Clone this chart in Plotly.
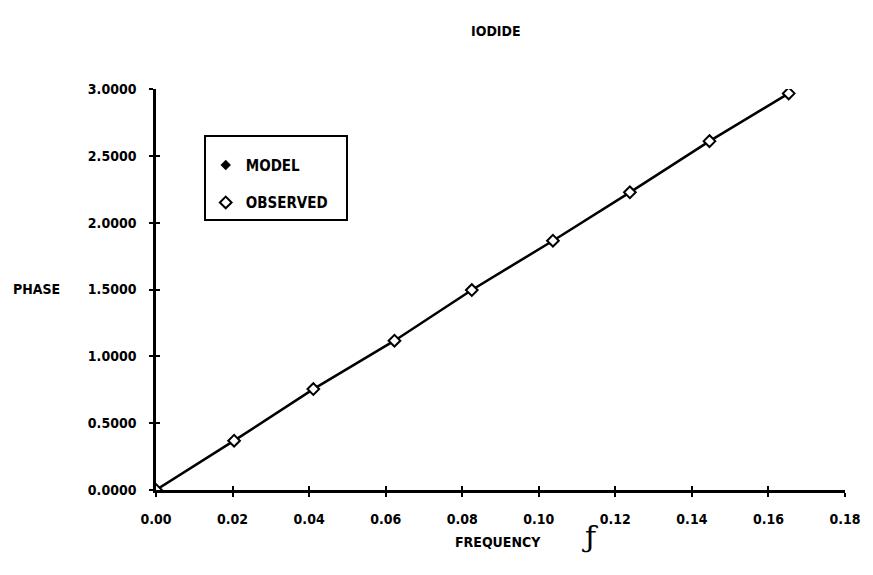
import plotly.graph_objects as go

# Iodide phase vs. frequency
frequency = [0.0, 0.0204, 0.0411, 0.0623, 0.0825, 0.1037, 0.1238, 0.1446, 0.1653]
phase_model = [0.0, 0.369, 0.755, 1.117, 1.496, 1.865, 2.227, 2.610, 2.967]
phase_observed = [0.0, 0.369, 0.755, 1.117, 1.496, 1.865, 2.227, 2.610, 2.967]

x_ticks = [0.00, 0.02, 0.04, 0.06, 0.08, 0.10, 0.12, 0.14, 0.16, 0.18]
y_ticks = [0.0, 0.5, 1.0, 1.5, 2.0, 2.5, 3.0]

FONT = "DejaVu Sans Condensed, DejaVu Sans"
W, H = 873, 575
L, R, T, B = 156, 24, 89, 85
PW, PH = W - L - R, H - T - B


def px_x(p):
    return (p - L) / PW


def px_y(p):
    return (H - B - p) / PH


fig = go.Figure()

# model curve
fig.add_trace(go.Scatter(
    x=frequency, y=phase_model, mode="lines",
    line=dict(color="black", width=2.5), showlegend=False, hoverinfo="skip",
))
# model points (filled diamonds)
fig.add_trace(go.Scatter(
    x=frequency, y=phase_model, mode="markers", name="<b>MODEL</b>",
    marker=dict(symbol="diamond", size=8, color="black"),
    legendgroup="a",
))
# observed points (open diamonds)
fig.add_trace(go.Scatter(
    x=frequency, y=phase_observed, mode="markers",
    name="<b>OBSERVED</b>&nbsp;&nbsp;&nbsp;",
    marker=dict(symbol="diamond", size=9, color="white",
                line=dict(color="black", width=2)),
    legendgroup="b",
))

axis_font = dict(family=FONT, size=14, color="black", weight="bold")

common = dict(showgrid=False, zeroline=False, showline=True, linecolor="black",
              linewidth=2.5, ticks="outside", ticklen=4, tickwidth=2,
              tickcolor="black", tickfont=axis_font)

fig.update_layout(
    width=W, height=H,
    margin=dict(l=L, r=R, t=T, b=B, pad=0),
    paper_bgcolor="white", plot_bgcolor="white",
    font=dict(family=FONT, color="black"),
    xaxis=dict(range=[0, 0.18], tickvals=x_ticks, tickformat=".2f",
               ticklabelstandoff=10, **common),
    yaxis=dict(range=[0, 3.0], tickvals=y_ticks, tickformat=".4f",
               ticklabelstandoff=10, **common),
    # inner halves of the cross-shaped tick marks
    xaxis2=dict(
        range=[0, 0.18], tickvals=x_ticks, overlaying="x", side="bottom",
        showticklabels=False, showgrid=False, zeroline=False, showline=False,
        ticks="inside", ticklen=4, tickwidth=2, tickcolor="black",
    ),
    yaxis2=dict(
        range=[0, 3.0], tickvals=y_ticks, overlaying="y", side="left",
        showticklabels=False, showgrid=False, zeroline=False, showline=False,
        ticks="inside", ticklen=4, tickwidth=2, tickcolor="black",
    ),
    legend=dict(
        x=px_x(204), y=px_y(135), xanchor="left", yanchor="top",
        bgcolor="white", bordercolor="black", borderwidth=2,
        font=dict(family=FONT, size=15, color="black"),
        title=dict(text=" ", font=dict(size=9)),
        traceorder="grouped", tracegroupgap=15,
        itemwidth=30,
    ),
    showlegend=True,
)

# empty trace that activates the secondary axes for the inner ticks
fig.add_trace(go.Scatter(x=[None], y=[None], xaxis="x2", yaxis="y2",
                         showlegend=False, hoverinfo="skip"))

fig.add_annotation(text="<b>IODIDE</b>", xref="paper", yref="paper",
                   x=px_x(498), y=px_y(21), showarrow=False,
                   font=dict(family=FONT, size=14, color="black"))
fig.add_annotation(text="<b>PHASE</b>", xref="paper", yref="paper",
                   x=px_x(10), y=px_y(289), xanchor="left", showarrow=False,
                   font=dict(family=FONT, size=14, color="black"))
fig.add_annotation(text="<b>FREQUENCY</b>", xref="paper", yref="paper",
                   x=px_x(500), y=px_y(552), showarrow=False,
                   font=dict(family=FONT, size=14, color="black"))
fig.add_annotation(text="ƒ", xref="paper", yref="paper",
                   x=px_x(593), y=px_y(556), showarrow=False,
                   font=dict(family="DejaVu Serif", size=30, color="black"))

fig.write_html("out.html")
